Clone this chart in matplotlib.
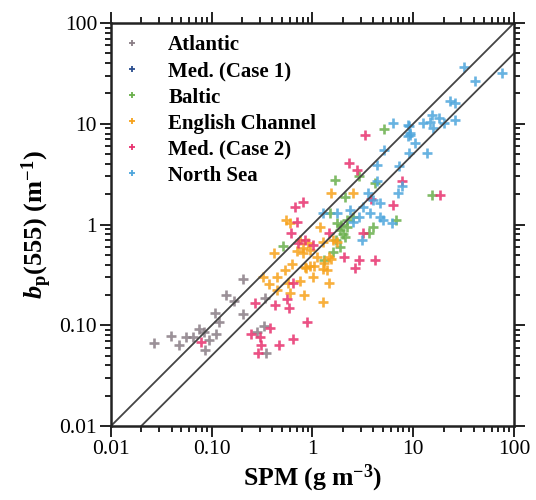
import matplotlib
matplotlib.use("Agg")
import matplotlib.pyplot as plt
from matplotlib.lines import Line2D
from matplotlib.ticker import LogLocator, FixedLocator, FixedFormatter, NullFormatter

plt.rcParams['font.family'] = ['Liberation Serif', 'DejaVu Serif']
plt.rcParams['mathtext.fontset'] = 'custom'
plt.rcParams['mathtext.rm'] = 'Liberation Serif'
plt.rcParams['mathtext.bf'] = 'Liberation Serif:bold'
plt.rcParams['mathtext.it'] = 'Liberation Serif:italic'
try:
    plt.rcParams['mathtext.bfit'] = 'Liberation Serif:bold:italic'
except KeyError:
    pass

# ---------------- data (SPM g m-3, bp(555) m-1) ----------------
series_names = ["Atlantic", "Med. (Case 1)", "Baltic", "English Channel",
                "Med. (Case 2)", "North Sea"]
series_colors = ["#8a7e86", "#2a4d8f", "#6ab04c", "#f7a21b", "#e8336f", "#4ea6dc"]

atl_spm = [0.027, 0.039, 0.047, 0.055, 0.065, 0.075, 0.084, 0.094, 0.110, 0.086,
           0.118, 0.108, 0.138, 0.166, 0.204, 0.204, 0.338, 0.330, 0.281, 0.345]
atl_bp = [0.067, 0.078, 0.064, 0.076, 0.076, 0.092, 0.086, 0.071, 0.082, 0.057,
          0.108, 0.132, 0.200, 0.174, 0.288, 0.129, 0.186, 0.098, 0.086, 0.053]

med1_spm = []
med1_bp = []

bal_spm = [5.13, 1.67, 2.9, 4.17, 15.3, 2.10, 6.74, 1.49, 0.51, 1.30, 1.60, 1.87,
           1.75, 1.87, 2.22, 2.10, 2.52, 2.22, 3.98, 3.6, 1.9, 2.0, 1.7]
bal_bp = [8.87, 2.77, 3.0, 2.58, 1.96, 1.87, 1.11, 1.30, 0.612, 0.444, 0.533, 0.598,
          1.04, 0.88, 0.944, 0.75, 1.19, 1.11, 0.944, 0.82, 1.0, 0.8, 0.7]

ec_spm = [1.53, 2.52, 0.546, 0.60, 1.19, 0.415, 0.75, 0.805, 0.944, 1.27, 1.60, 1.11,
          1.46, 0.626, 0.533, 0.444, 0.323, 0.37, 0.444, 0.571, 0.75, 0.843, 1.04,
          1.01, 1.27, 1.30, 1.46, 0.824, 0.598, 1.27, 1.75, 0.90, 0.70, 0.805,
          0.94, 0.86, 1.39, 1.53]
ec_bp = [2.05, 2.05, 1.11, 1.04, 0.944, 0.521, 0.70, 0.585, 0.558, 0.67, 0.70, 0.475,
         0.475, 0.405, 0.353, 0.301, 0.301, 0.257, 0.224, 0.262, 0.275, 0.379, 0.387,
         0.301, 0.362, 0.415, 0.262, 0.20, 0.209, 0.170, 0.67, 0.65, 0.55, 0.52,
         0.387, 0.37, 0.353, 0.455]

med2_spm = [0.078, 0.269, 0.425, 0.558, 0.585, 0.64, 0.88, 0.379, 0.245, 0.301,
            0.308, 0.288, 0.465, 0.64, 0.67, 0.805, 0.70, 0.612, 0.843, 1.01, 1.46,
            2.05, 2.64, 2.90, 4.17, 3.17, 6.30, 7.8, 18.4, 3.81, 3.32, 2.30, 2.77, 0.72]
med2_bp = [0.068, 0.166, 0.159, 0.182, 0.148, 0.262, 0.108, 0.094, 0.082, 0.076,
           0.064, 0.053, 0.064, 0.073, 1.49, 1.67, 1.06, 0.824, 0.70, 0.626, 0.824,
           0.475, 0.37, 0.444, 0.444, 0.824, 1.56, 2.7, 1.96, 1.79, 7.73, 4.07, 3.47, 0.655]

ns_spm = [31.9, 41.0, 76, 23.2, 26, 15.3, 12.5, 14.5, 15.7, 18.0, 20.2, 26, 9.08, 6.3,
          9.29, 10.4, 5.13, 13.7, 9.08, 4.37, 7.22, 4.37, 3.56, 7.0, 4.68, 2.36, 3.17,
          3.72, 4.68, 2.9, 2.5, 6.15, 1.27, 1.75, 5.0, 3.10, 3.98, 7.7, 8.87, 8.87, 9.29]
ns_bp = [36.6, 26.6, 31.9, 16.8, 16.1, 12.2, 10.2, 10.5, 9.08, 11.4, 10.2, 10.9, 9.5,
         10.2, 7.73, 6.44, 5.48, 5.13, 5.13, 3.90, 3.81, 2.70, 2.05, 2.05, 1.63, 1.39,
         1.49, 1.30, 1.19, 1.19, 1.05, 1.04, 1.30, 1.30, 1.11, 0.70, 1.75, 2.4, 7.55,
         9.73, 8.1]

series_x = [atl_spm, med1_spm, bal_spm, ec_spm, med2_spm, ns_spm]
series_y = [atl_bp, med1_bp, bal_bp, ec_bp, med2_bp, ns_bp]

line_x = [0.01, 100]
ratio_upper = 1.0
ratio_lower = 0.5

tick_vals = [0.01, 0.1, 1, 10, 100]
tick_labels = ["0.01", "0.10", "1", "10", "100"]

# ---------------- figure ----------------
fig = plt.figure(figsize=(5.36, 5.00), dpi=100)
ax = fig.add_axes([0.207, 0.148, 0.752, 0.806])

for xs, ys, c in zip(series_x, series_y, series_colors):
    ax.plot(xs, ys, '+', color=c, ms=7, mew=1.9, ls='none', alpha=0.85)

ax.plot(line_x, [v * ratio_upper for v in line_x], color='#444444', lw=1.3)
ax.plot(line_x, [v * ratio_lower for v in line_x], color='#444444', lw=1.3)

ax.set_xscale('log')
ax.set_yscale('log')
ax.set_xlim(0.01, 100)
ax.set_ylim(0.01, 100)

for axis in (ax.xaxis, ax.yaxis):
    axis.set_major_locator(FixedLocator(tick_vals))
    axis.set_major_formatter(FixedFormatter(tick_labels))
    axis.set_minor_locator(LogLocator(base=10, subs=range(2, 10), numticks=20))
    axis.set_minor_formatter(NullFormatter())

ax.tick_params(which='both', direction='out', top=True, right=True,
               labeltop=False, labelright=False, width=1.4, color='#222222')
ax.tick_params(which='major', length=8, labelsize=15.5, pad=2)
ax.tick_params(which='minor', length=4)
for s in ax.spines.values():
    s.set_linewidth(1.8)
    s.set_color('#222222')

ax.set_xlabel(r'$\mathbf{SPM\ (g\ m^{-3})}$', fontsize=18.5, labelpad=3)
ax.set_ylabel(r'$\mathbfit{b}_{\mathbf{p}}\mathbf{(555)\ (m^{-1})}$', fontsize=19, labelpad=4)

handles = [Line2D([], [], marker='+', color=c, ls='none', ms=5, mew=1.3)
           for c in series_colors]
leg = ax.legend(handles, series_names, loc='upper left', frameon=False,
                prop={'family': 'Liberation Serif', 'weight': 'bold', 'size': 15},
                handlelength=0.8, handletextpad=1.35, labelspacing=0.29,
                borderaxespad=0.2, bbox_to_anchor=(0.0, 1.0))

fig.savefig("out.png", dpi=100)
